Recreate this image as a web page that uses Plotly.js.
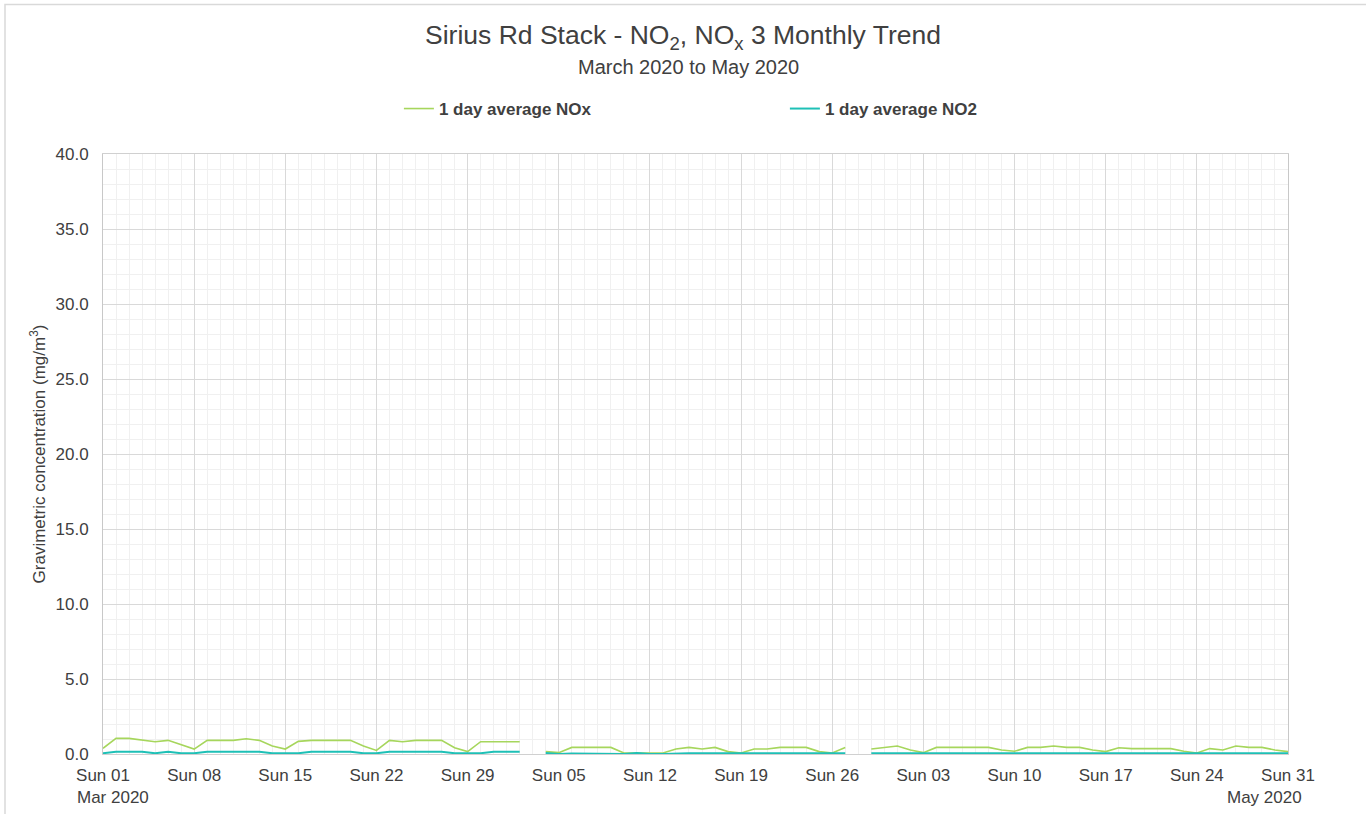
<!DOCTYPE html>
<html>
<head>
<meta charset="utf-8">
<script src="https://cdn.plot.ly/plotly-3.0.1.min.js"></script>
<style>
html,body{margin:0;padding:0;background:#fff;}
#chart{width:1366px;height:814px;}
</style>
</head>
<body>
<div id="chart"></div>
<script>
// Dates (daily, March–May 2020)
const dates = [
'2020-03-01','2020-03-02','2020-03-03','2020-03-04','2020-03-05','2020-03-06','2020-03-07','2020-03-08','2020-03-09','2020-03-10',
'2020-03-11','2020-03-12','2020-03-13','2020-03-14','2020-03-15','2020-03-16','2020-03-17','2020-03-18','2020-03-19','2020-03-20',
'2020-03-21','2020-03-22','2020-03-23','2020-03-24','2020-03-25','2020-03-26','2020-03-27','2020-03-28','2020-03-29','2020-03-30','2020-03-31',
'2020-04-01','2020-04-02','2020-04-03','2020-04-04','2020-04-05','2020-04-06','2020-04-07','2020-04-08','2020-04-09','2020-04-10',
'2020-04-11','2020-04-12','2020-04-13','2020-04-14','2020-04-15','2020-04-16','2020-04-17','2020-04-18','2020-04-19','2020-04-20',
'2020-04-21','2020-04-22','2020-04-23','2020-04-24','2020-04-25','2020-04-26','2020-04-27','2020-04-28','2020-04-29','2020-04-30',
'2020-05-01','2020-05-02','2020-05-03','2020-05-04','2020-05-05','2020-05-06','2020-05-07','2020-05-08','2020-05-09','2020-05-10',
'2020-05-11','2020-05-12','2020-05-13','2020-05-14','2020-05-15','2020-05-16','2020-05-17','2020-05-18','2020-05-19','2020-05-20',
'2020-05-21','2020-05-22','2020-05-23','2020-05-24','2020-05-25','2020-05-26','2020-05-27','2020-05-28','2020-05-29','2020-05-30','2020-05-31'
];

// 1 day average NOx (mg/m3)
const noxMar = [0.38,1.04,1.04,0.93,0.82,0.91,0.64,0.33,0.91,0.91,0.91,1.02,0.91,0.53,0.33,0.84,0.91,0.91,0.91,0.91,0.53,0.24,0.91,0.82,0.91,0.91,0.91,0.42,0.16,0.82,0.82];
const noxApr = [0.82,0.82,null,0.16,0.09,0.44,0.44,0.44,0.44,0.07,0.07,0.07,0.07,0.33,0.44,0.33,0.44,0.16,0.07,0.33,0.33,0.44,0.44,0.44,0.16,0.07,0.44,null,0.33,0.44];
const noxMay = [0.53,0.27,0.09,0.44,0.44,0.44,0.44,0.44,0.27,0.18,0.44,0.44,0.53,0.44,0.44,0.27,0.16,0.42,0.36,0.36,0.36,0.36,0.18,0.07,0.36,0.27,0.53,0.44,0.44,0.27,0.16];

// 1 day average NO2 (mg/m3)
const no2Mar = [0.05,0.15,0.15,0.15,0.05,0.15,0.05,0.05,0.15,0.15,0.15,0.15,0.15,0.05,0.05,0.05,0.15,0.15,0.15,0.15,0.05,0.05,0.15,0.15,0.15,0.15,0.15,0.05,0.05,0.05,0.15];
const no2Apr = [0.15,0.15,null,0.07,0.0,0.03,0.03,0.03,0.03,0.0,0.07,0.0,0.0,0.05,0.05,0.05,0.05,0.05,0.05,0.05,0.05,0.05,0.05,0.05,0.05,0.05,0.05,null,0.05,0.05];
const no2May = [0.05,0.05,0.05,0.05,0.05,0.05,0.05,0.05,0.05,0.05,0.05,0.05,0.05,0.05,0.05,0.05,0.05,0.05,0.05,0.05,0.05,0.05,0.05,0.0,0.05,0.05,0.05,0.05,0.05,0.05,0.05];

const seriesNames = ['1 day average NOx','1 day average NO2'];
const titleText = 'Sirius Rd Stack - NO<sub>2</sub>, NO<sub>x</sub> 3 Monthly Trend';
const subtitleText = 'March 2020 to May 2020';
const yTitle = 'Gravimetric concentration (mg/m<sup>3</sup>)';
const firstMonthLabel = 'Mar 2020';
const lastMonthLabel = 'May 2020';

const nox = noxMar.concat(noxApr, noxMay);
const no2 = no2Mar.concat(no2Apr, no2May);

const FONT = 'Liberation Sans, Arial, sans-serif';
const W = 1366, H = 814;
const M = {l:103, r:78, t:154, b:60};
const pw = W - M.l - M.r, ph = H - M.t - M.b;

const traces = [
  {x: dates, y: nox, name: seriesNames[0], type: 'scatter', mode: 'lines',
   line: {color: '#a6d65c', width: 1.6}, connectgaps: false},
  {x: dates, y: no2, name: seriesNames[1], type: 'scatter', mode: 'lines',
   line: {color: '#1ec0b6', width: 2}, connectgaps: false}
];

const layout = {
  width: W, height: H,
  margin: M,
  paper_bgcolor: '#fff', plot_bgcolor: '#fff',
  font: {family: FONT, color: '#404040', size: 17},
  title: {
    text: titleText,
    font: {family: FONT, size: 26.5, color: '#404040'},
    x: 0.5, xref: 'container', xanchor: 'center',
    y: 1 - 35/H, yref: 'container', yanchor: 'middle'
  },
  showlegend: true,
  legend: {
    orientation: 'h', x: 0.2497, xanchor: 'left', y: (754-109)/ph, yanchor: 'middle',
    yref: 'paper',
    font: {family: FONT, size: 17, color: '#404040', weight: 'bold'},
    entrywidth: 341, itemwidth: 30, bgcolor: 'rgba(0,0,0,0)'
  },
  xaxis: {
    type: 'date',
    range: ['2020-03-01', '2020-05-31'],
    tickmode: 'linear', tick0: '2020-03-01', dtick: 7*86400000,
    tickformat: '%a %d',
    ticks: '', showgrid: true, gridcolor: '#d9d9d9', gridwidth: 1,
    minor: {dtick: 86400000, tick0: '2020-03-01', showgrid: true, gridcolor: '#f0f0f0', gridwidth: 1},
    showline: true, linecolor: '#d0d0d0', linewidth: 1, mirror: true,
    zeroline: false,
    ticklabelstandoff: 6,
    tickfont: {family: FONT, size: 17, color: '#404040'},
    fixedrange: true
  },
  yaxis: {
    range: [0, 40], dtick: 5, tick0: 0, tickformat: '.1f',
    ticks: '', showgrid: true, gridcolor: '#d9d9d9', gridwidth: 1,
    minor: {dtick: 1, showgrid: true, gridcolor: '#f0f0f0', gridwidth: 1},
    showline: true, linecolor: '#c8c8c8', linewidth: 1, mirror: true,
    zeroline: false,
    ticklabelstandoff: 10,
    tickfont: {family: FONT, size: 17, color: '#404040'},
    title: {text: yTitle, font: {family: FONT, size: 17, color: '#404040'}, standoff: 5},
    fixedrange: true
  },
  annotations: [
    {xref: 'paper', yref: 'paper', x: (688 - M.l)/pw, y: (754-67)/ph, xanchor: 'center', yanchor: 'middle',
     showarrow: false, text: subtitleText, font: {family: FONT, size: 20, color: '#404040'}},
    {xref: 'x', yref: 'paper', x: '2020-03-01', y: 0, yshift: -43, xshift: -28,
     xanchor: 'left', yanchor: 'middle', showarrow: false, text: firstMonthLabel,
     font: {family: FONT, size: 17, color: '#404040'}},
    {xref: 'x', yref: 'paper', x: '2020-05-31', y: 0, yshift: -43, xshift: 16,
     xanchor: 'right', yanchor: 'middle', showarrow: false, text: lastMonthLabel,
     font: {family: FONT, size: 17, color: '#404040'}}
  ],
  shapes: [
    {type: 'rect', xref: 'paper', yref: 'paper', layer: 'below',
     x0: (5 - M.l)/pw, x1: (1366 + 2 - M.l)/pw,
     y0: (754 - 830)/ph, y1: (754 - 4.5)/ph,
     line: {color: '#d9d9d9', width: 1.5}, fillcolor: 'rgba(0,0,0,0)'}
  ]
};

Plotly.newPlot('chart', traces, layout, {displayModeBar: false, staticPlot: true});
</script>
</body>
</html>
